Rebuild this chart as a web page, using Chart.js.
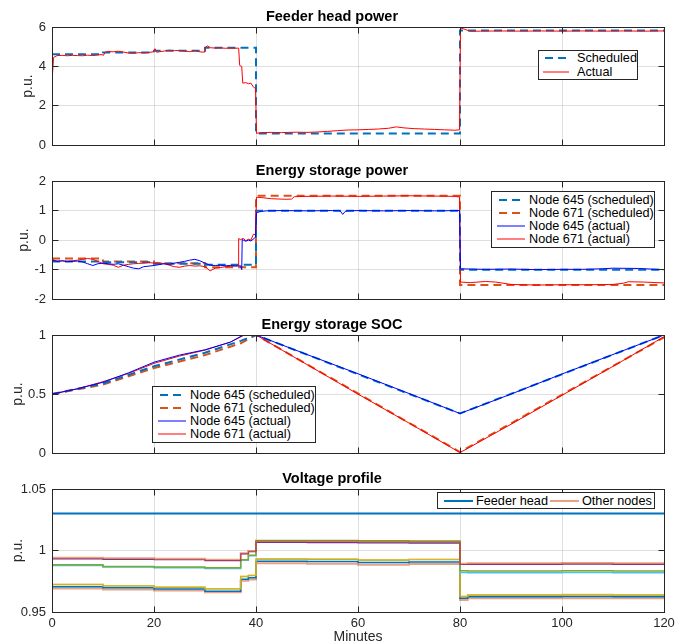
<!DOCTYPE html>
<html>
<head>
<meta charset="utf-8">
<title>Feeder and storage results</title>
<script src="https://cdn.jsdelivr.net/npm/chart.js"></script>
<style>
  body { margin: 0; background: #fff; }
  #wrap { position: relative; width: 686px; height: 644px; overflow: hidden; }
  #wrap canvas { position: absolute; left: 0; }
  .legend {
    position: absolute;
    box-sizing: border-box;
    border: 1px solid #262626;
    background: #fff;
    font: 12.7px "Liberation Sans", Arial, sans-serif;
    color: #000;
    white-space: nowrap;
  }
  .legend .item { display: flex; align-items: center; }
  .legend.row { display: flex; align-items: center; }
  .legend svg { display: block; flex: none; }
</style>
</head>
<body>
<div id="wrap">
  <canvas id="c1" width="686" height="159" style="top:0px"></canvas>
  <canvas id="c2" width="686" height="159" style="top:154px"></canvas>
  <canvas id="c3" width="686" height="159" style="top:308px"></canvas>
  <canvas id="c4" width="686" height="182" style="top:462px"></canvas>
</div>
<script>
// ----- Data (minutes on x) -----
const minuteTicks = [0, 20, 40, 60, 80, 100, 120];
const feederTicks = [0, 2, 4, 6];
const essTicks = [-2, -1, 0, 1, 2];
const socTicks = [0, 0.5, 1];
const voltTicks = [0.95, 1, 1.05];

// Feeder head power
const feederSchedT = [0, 10, 20, 30, 40, 80, 120];
const feederSched = [4.62, 4.71, 4.79, 4.95, 0.6, 5.82, 5.82];
const feederT = [0, 0.3, 1, 2, 3, 4, 5, 6, 7, 8, 9, 9.8, 10.1, 10.4, 11, 12, 13, 14, 15, 16,
  17, 18, 19, 19.9, 20.2, 20.5, 21, 22, 23, 24, 25, 26, 27, 28, 29, 29.9, 30.1, 30.5, 31, 32,
  33, 34, 35, 36, 36.6, 36.8, 37.2, 37.4, 38, 38.5, 39, 39.5, 39.9, 40.1, 41, 43, 45, 48, 50, 52,
  54, 56, 58, 60, 62, 64, 66, 67.5, 69, 71, 73, 75, 77, 79, 79.9, 80.1, 81, 82, 84, 88,
  92, 96, 100, 104, 108, 112, 116, 120];
const feederActual = [3.2, 4.45, 4.55, 4.56, 4.54, 4.56, 4.55, 4.54, 4.57, 4.55, 4.58, 4.6, 4.56, 4.72, 4.76, 4.74, 4.77, 4.73, 4.68, 4.66,
  4.7, 4.68, 4.71, 4.74, 4.9, 4.72, 4.74, 4.78, 4.82, 4.8, 4.81, 4.78, 4.75, 4.8, 4.74, 4.72, 4.98, 5.04, 4.95, 4.93,
  4.94, 4.92, 4.93, 4.92, 4.93, 4.05, 4.0, 3.15, 3.18, 3.12, 3.15, 2.95, 2.88, 0.6, 0.64, 0.65, 0.64, 0.66, 0.65, 0.67,
  0.7, 0.74, 0.77, 0.78, 0.8, 0.82, 0.86, 0.93, 0.88, 0.84, 0.82, 0.8, 0.78, 0.76, 0.78, 5.95, 5.88, 5.78, 5.79, 5.8,
  5.79, 5.8, 5.79, 5.8, 5.79, 5.8, 5.79, 5.8];

// Energy storage power
const essSchedT = [0, 10, 20, 30, 40, 80, 120];
const ess645Sched = [-0.72, -0.75, -0.8, -0.83, 0.99, -1.0, -1.0];
const ess671Sched = [-0.62, -0.72, -0.78, -0.92, 1.5, -1.52, -1.52];
const ess645T = [0, 1, 2, 3, 4, 5, 6, 7, 8, 9, 10, 11, 12, 13, 14, 15, 16, 17, 18, 19,
  20, 21, 22, 23, 24, 25, 26, 27, 28, 29, 30, 31, 32, 33, 34, 35, 36, 37,
  37.2, 37.3, 38, 38.5, 39, 39.6, 39.9,
  40.1, 41, 42, 45, 50, 55, 56.5, 57, 57.5, 58,
  60, 65, 70, 75, 79.9,
  80.1, 82, 85, 90, 95, 100, 104, 106, 108, 110, 115, 120];
const ess645Actual = [-0.68, -0.72, -0.7, -0.73, -0.72, -0.71, -0.74, -0.8, -0.86, -0.8, -0.78, -0.8, -0.82, -0.8, -0.85, -0.9, -0.95, -0.97, -0.9, -0.88,
  -0.86, -0.83, -0.8, -0.82, -0.78, -0.75, -0.72, -0.68, -0.65, -0.7, -0.78, -0.85, -0.86, -0.85, -0.87, -0.86, -0.88, -0.87,
  -1.0, 0.02, -0.04, 0.0, -0.03, 0.05, 0.1,
  0.93, 0.97, 0.99, 1.0, 0.99, 1.0, 0.99, 0.87, 0.97, 0.99,
  1.0, 0.99, 1.0, 0.99, 1.0,
  -0.97, -0.98, -0.99, -0.98, -1.0, -0.99, -0.99, -0.98, -0.97, -0.95, -0.96, -1.0];
const ess671T = [0, 1, 2, 3, 4, 5, 6, 7, 8, 9, 10, 11, 12, 13, 14, 15, 16, 17, 18, 19,
  20, 21, 22, 23, 24, 25, 26, 27, 28, 29, 30, 31, 32, 33, 34, 35, 36,
  36.5, 36.6, 37, 37.5, 38, 38.5, 39, 39.5, 39.9,
  40.1, 41, 43, 46, 47, 47.5, 50, 55, 60, 65, 70, 75, 79, 79.9,
  80.1, 82, 85, 87, 90, 95, 100, 105, 110, 112, 113, 116, 120];
const ess671Actual = [-0.65, -0.72, -0.7, -0.72, -0.7, -0.68, -0.65, -0.62, -0.65, -0.72, -0.8, -0.82, -0.85, -0.92, -0.85, -0.82, -0.8, -0.79, -0.78, -0.76,
  -0.78, -0.77, -0.8, -0.85, -0.9, -0.92, -0.88, -0.86, -0.88, -0.87, -0.9, -1.04, -0.95, -0.93, -0.9, -0.88, -0.87,
  -0.85, 0.05, 0.02, 0.06, -0.02, 0.03, 0.0, 0.2, 0.18,
  1.45, 1.44, 1.4, 1.38, 1.39, 1.47, 1.48, 1.49, 1.48, 1.49, 1.5, 1.49, 1.48, 1.46,
  -1.42, -1.44, -1.4, -1.42, -1.5, -1.52, -1.51, -1.51, -1.5, -1.46, -1.41, -1.42, -1.45];

// Energy storage SOC
const socSchedT = [0, 10, 20, 30, 37, 40, 80, 120];
const soc645Sched = [0.5, 0.59, 0.735, 0.85, 0.95, 1.0, 0.336, 1.0];
const soc671Sched = [0.5, 0.58, 0.72, 0.83, 0.93, 1.0, 0.01, 0.98];
const socT = [0, 5, 10, 15, 20, 25, 30, 35, 37.5, 40, 50, 60, 70, 80, 90, 100, 110, 120];
const soc645Actual = [0.5, 0.545, 0.6, 0.68, 0.77, 0.83, 0.875, 0.94, 1.0, 1.0, 0.835, 0.672, 0.505, 0.336, 0.5, 0.67, 0.835, 1.0];
const soc671Actual = [0.5, 0.545, 0.605, 0.675, 0.76, 0.822, 0.872, 0.94, 0.995, 1.0, 0.75, 0.5, 0.255, 0.005, 0.245, 0.49, 0.735, 0.985];

// Voltage profile (stepped, value holds until next time)
const feederVT = [0, 120];
const feederV = [1.03, 1.03];
const vT = [0, 10, 20, 30, 37, 38.5, 40, 50, 60, 70, 80, 81.5, 90, 100, 110, 120];
const vA1 = [0.9941, 0.9936, 0.9933, 0.9925, 0.9977, 0.9995, 1.0078, 1.0077, 1.0074, 1.0072, 0.9893, 0.9897, 0.9897, 0.9898, 0.9897, 0.9897];
const vA2 = [0.9932, 0.9928, 0.9925, 0.9918, 0.9972, 0.999, 1.0065, 1.0064, 1.0062, 1.006, 0.9886, 0.9888, 0.9888, 0.9889, 0.9888, 0.9888];
const vB1 = [0.9884, 0.987, 0.9866, 0.986, 0.9925, 0.9962, 1.0082, 1.0081, 1.0079, 1.0078, 0.9835, 0.9834, 0.9834, 0.9835, 0.9834, 0.9834];
const vB2 = [0.9878, 0.9865, 0.986, 0.9853, 0.992, 0.9957, 1.0072, 1.007, 1.0068, 1.0068, 0.9822, 0.982, 0.982, 0.9821, 0.982, 0.982];
const vC0 = [0.9725, 0.9714, 0.9703, 0.969, 0.979, 0.9798, 0.9933, 0.9931, 0.9925, 0.9928, 0.9628, 0.9641, 0.9641, 0.9642, 0.9641, 0.9643];
const vC1 = [0.9722, 0.9712, 0.97, 0.9688, 0.9787, 0.9795, 0.993, 0.9928, 0.9922, 0.9925, 0.9625, 0.9638, 0.9638, 0.9639, 0.9638, 0.964];
const vC2 = [0.9706, 0.9697, 0.9687, 0.9668, 0.9767, 0.9778, 0.9912, 0.991, 0.9903, 0.9907, 0.9612, 0.9625, 0.9625, 0.9626, 0.9625, 0.9625];
const vC3 = [0.9692, 0.9683, 0.9675, 0.966, 0.9755, 0.9765, 0.9896, 0.9893, 0.9885, 0.989, 0.9598, 0.9611, 0.9611, 0.9612, 0.9611, 0.9611];

// ----- Styling -----
const axisColor = '#262626';
const gridColor = 'rgba(38,38,38,0.15)';
const mBlue = '#0072BD';
const mOrange = '#D95319';
const salmon = 'rgba(217,83,25,0.55)';

Chart.defaults.font.family = '"Liberation Sans", Arial, Helvetica, sans-serif';

function pts(xs, ys) {
  return xs.map((x, i) => ({ x: x, y: ys[i] }));
}

// MATLAB-ish box with inward ticks on all four sides
const matlabBox = {
  id: 'matlabBox',
  afterDatasetsDraw(chart) {
    const { ctx, chartArea: a, scales: { x, y } } = chart;
    const al = p => Math.round(p - 0.5) + 0.5;
    const L = al(a.left), R = al(a.right), T = al(a.top), B = al(a.bottom);
    ctx.save();
    ctx.strokeStyle = axisColor;
    ctx.lineWidth = 1;
    ctx.beginPath();
    x.ticks.forEach(t => {
      const px = al(x.getPixelForValue(t.value));
      ctx.moveTo(px, B); ctx.lineTo(px, B - 6);
      ctx.moveTo(px, T); ctx.lineTo(px, T + 6);
    });
    y.ticks.forEach(t => {
      const py = al(y.getPixelForValue(t.value));
      ctx.moveTo(L, py); ctx.lineTo(L + 6, py);
      ctx.moveTo(R, py); ctx.lineTo(R - 6, py);
    });
    ctx.stroke();
    ctx.strokeRect(L, T, R - L, B - T);
    ctx.restore();
  }
};
Chart.register(matlabBox);

function panel(id, title, yTicks, yTitlePad, datasets, lastPanel) {
  return new Chart(document.getElementById(id), {
    type: 'line',
    data: { datasets: datasets },
    options: {
      responsive: false,
      animation: false,
      devicePixelRatio: 1,
      events: [],
      layout: { padding: { left: 0, right: 22, top: 0, bottom: 0 } },
      elements: { point: { radius: 0 }, line: { tension: 0, borderCapStyle: 'butt' } },
      plugins: {
        legend: { display: false },
        tooltip: { enabled: false },
        title: {
          display: true,
          text: title,
          color: '#000',
          font: { size: 14.5, weight: 'bold', lineHeight: 1.2 },
          padding: { top: 8, bottom: 1.6 }
        }
      },
      scales: {
        x: {
          type: 'linear',
          min: 0,
          max: 120,
          afterBuildTicks: s => { s.ticks = minuteTicks.map(v => ({ value: v })); },
          afterFit: s => { s.height = lastPanel ? 32 : 10; },
          grid: { color: gridColor, drawTicks: false },
          border: { display: false },
          ticks: { display: lastPanel, padding: 4, color: axisColor, font: { size: 13 } },
          title: {
            display: lastPanel,
            text: 'Minutes',
            color: axisColor,
            font: { size: 14, lineHeight: 1 },
            padding: 0
          }
        },
        y: {
          min: yTicks[0],
          max: yTicks[yTicks.length - 1],
          afterBuildTicks: s => { s.ticks = yTicks.map(v => ({ value: v })); },
          afterFit: s => { s.width = 52; },
          grid: { color: gridColor, drawTicks: false },
          border: { display: false },
          ticks: { padding: 6, color: axisColor, font: { size: 13 }, callback: v => String(v) },
          title: {
            display: true,
            text: 'p.u.',
            color: axisColor,
            font: { size: 14, lineHeight: 1.2 },
            padding: { top: yTitlePad, bottom: 0 }
          }
        }
      }
    }
  });
}

// value holds from its own minute until the next one -> 'before' in Chart.js terms
function dashed(label, xs, ys, color, stepped) {
  return { label: label, data: pts(xs, ys), borderColor: color, borderWidth: 2, borderDash: [8, 5], stepped: stepped || false, order: 2 };
}
function solid(label, xs, ys, color, width) {
  return { label: label, data: pts(xs, ys), borderColor: color, borderWidth: width || 1, order: 1 };
}
function node(label, ys, color, width) {
  return Object.assign(solid(label, vT, ys, color, width), { stepped: 'before' });
}

// ----- HTML legends -----
function htmlLegend(chart, box) {
  const el = document.createElement('div');
  el.className = 'legend' + (box.row ? ' row' : '');
  el.style.left = box.left + 'px';
  el.style.top = box.top + 'px';
  el.style.width = box.width + 'px';
  el.style.height = box.height + 'px';
  el.style.paddingTop = (box.padTop || 0) + 'px';
  chart.data.datasets.filter(d => d.label).forEach((d, i) => {
    const item = document.createElement('div');
    item.className = 'item';
    item.style.height = box.rowH + 'px';
    const w = box.sample;
    const dash = d.borderDash ? ' stroke-dasharray="' + d.borderDash.join(' ') + '" stroke-dashoffset="-2"' : '';
    item.innerHTML =
      '<svg width="' + w + '" height="8" style="margin-left:' + (i === 0 || !box.row ? box.lead : box.between) + 'px;margin-right:' + box.gap + 'px">' +
      '<line x1="0" y1="4" x2="' + w + '" y2="4" stroke="' + d.borderColor + '" stroke-width="' + d.borderWidth + '"' + dash + '/></svg>' +
      '<span>' + d.label + '</span>';
    el.appendChild(item);
  });
  document.getElementById('wrap').appendChild(el);
}

// ----- Panels -----
const feederChart = panel('c1', 'Feeder head power', feederTicks, 19.6, [
  dashed('Scheduled', feederSchedT, feederSched, mBlue, 'before'),
  solid('Actual', feederT, feederActual, '#FF0000', 1)
], false);

const essChart = panel('c2', 'Energy storage power', essTicks, 15.6, [
  dashed('Node 645 (scheduled)', essSchedT, ess645Sched, mBlue, 'before'),
  dashed('Node 671 (scheduled)', essSchedT, ess671Sched, mOrange, 'before'),
  solid('Node 645 (actual)', ess645T, ess645Actual, '#0000FF', 1),
  solid('Node 671 (actual)', ess671T, ess671Actual, '#FF0000', 1)
], false);

const socChart = panel('c3', 'Energy storage SOC', socTicks, 9.6, [
  dashed('Node 645 (scheduled)', socSchedT, soc645Sched, mBlue),
  dashed('Node 671 (scheduled)', socSchedT, soc671Sched, mOrange),
  solid('Node 645 (actual)', socT, soc645Actual, '#0000FF', 1),
  solid('Node 671 (actual)', socT, soc671Actual, '#FF0000', 1)
], false);

const voltChart = panel('c4', 'Voltage profile', voltTicks, 10, [
  solid('Feeder head', feederVT, feederV, mBlue, 2),
  node('Other nodes', vA1, salmon, 2),
  node(null, vA2, '#7E2F8E', 1.2),
  node(null, vB1, '#77AC30', 1.5),
  node(null, vB2, '#4DBEEE', 1.5),
  node(null, vC0, 'rgba(237,177,32,0.8)', 1.5),
  node(null, vC1, '#77AC30', 1.2),
  node(null, vC2, mBlue, 1.5),
  node(null, vC3, salmon, 2)
], true);

htmlLegend(feederChart, { left: 538, top: 50, width: 100, height: 30, rowH: 14, padTop: 0, sample: 26, lead: 4, gap: 8 });
htmlLegend(essChart, { left: 491, top: 191, width: 164, height: 57, rowH: 13.2, padTop: 1, sample: 28, lead: 5, gap: 4 });
htmlLegend(socChart, { left: 152, top: 386, width: 164, height: 57, rowH: 13.2, padTop: 1, sample: 28, lead: 5, gap: 4 });
htmlLegend(voltChart, { left: 437, top: 492, width: 218, height: 17, rowH: 15, row: true, sample: 29, lead: 6, between: 2, gap: 3 });
</script>
</body>
</html>
